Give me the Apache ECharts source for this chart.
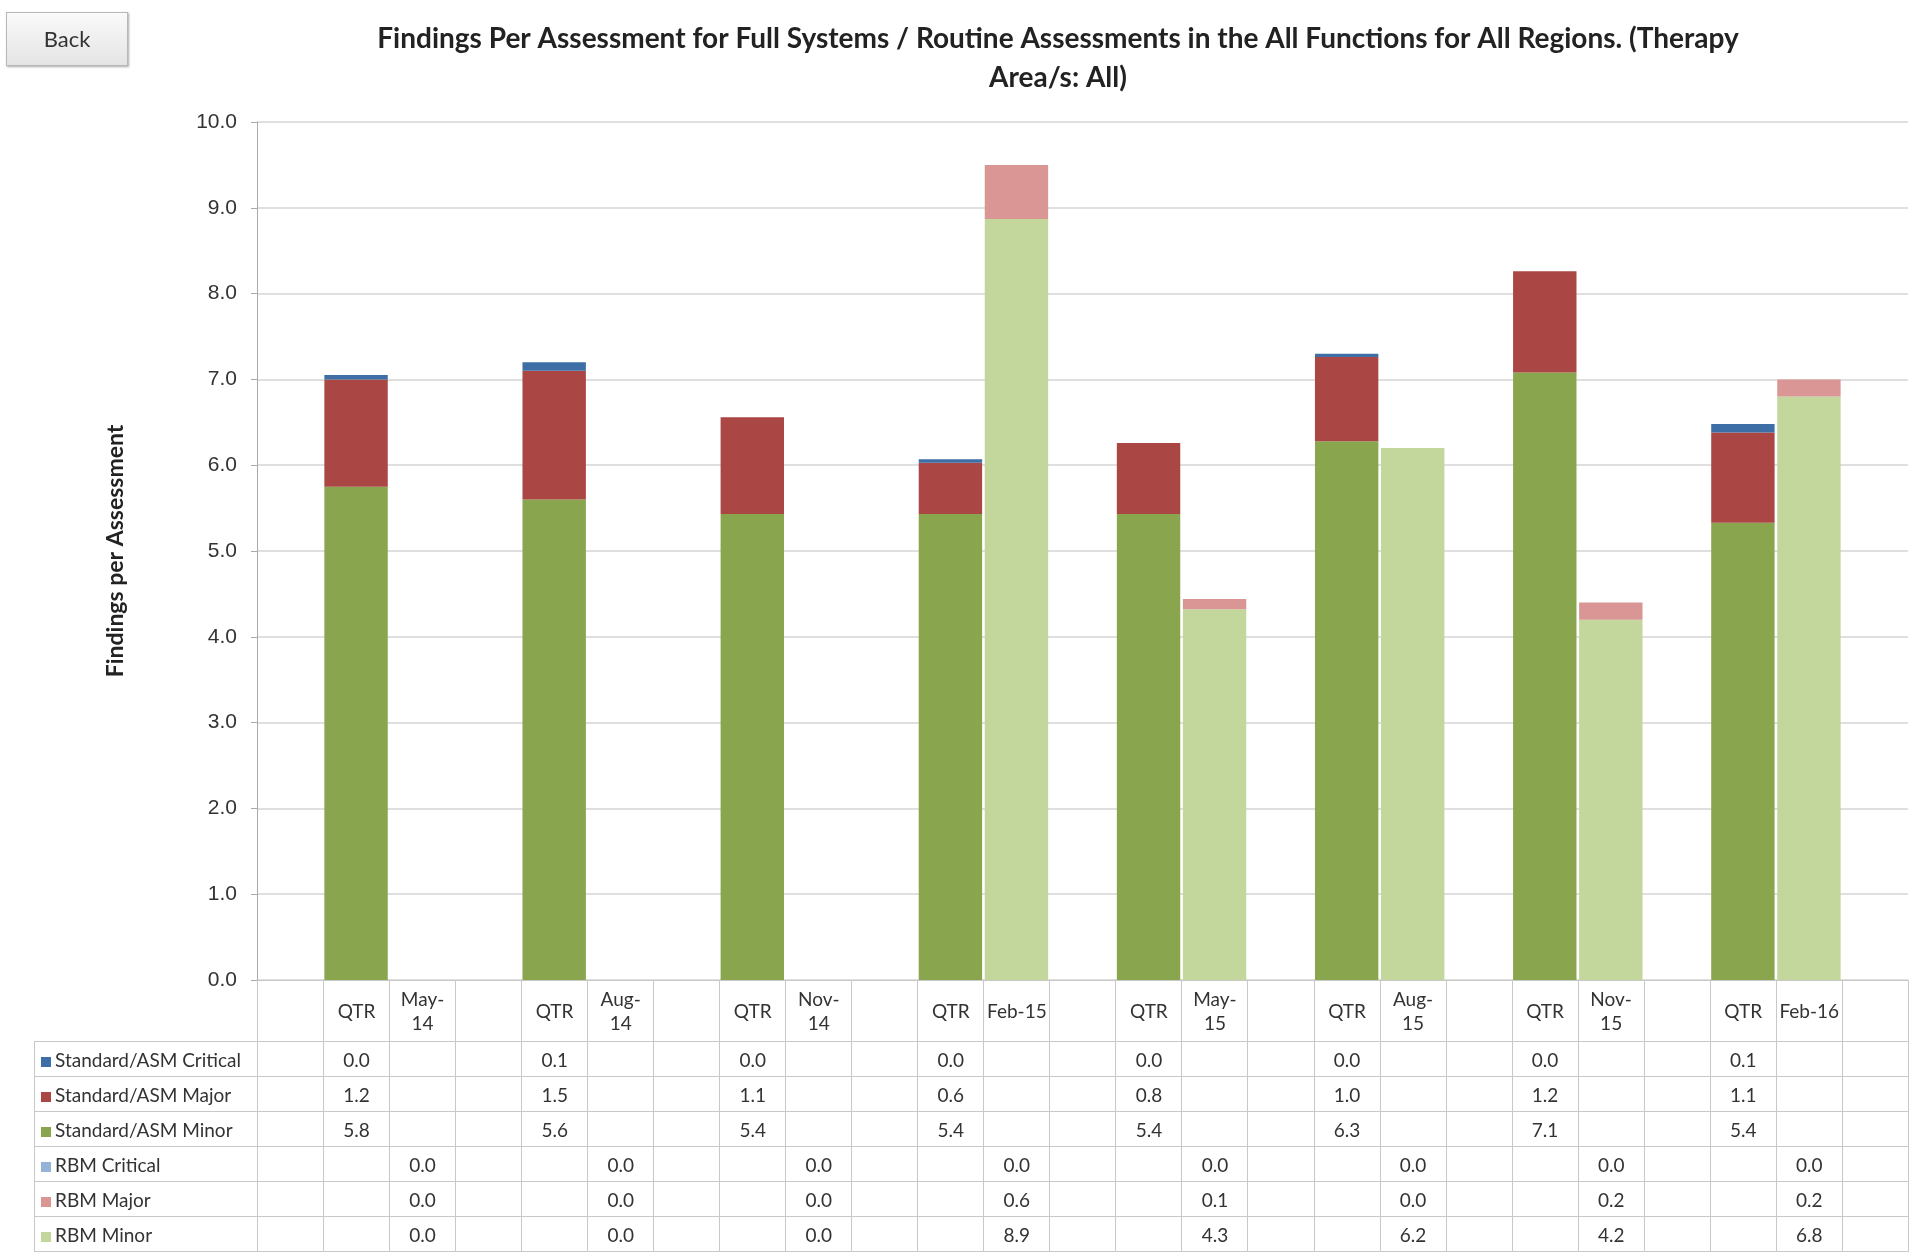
<!DOCTYPE html>
<html lang="en">
<head>
<meta charset="UTF-8">
<title>Findings Per Assessment</title>
<script src="https://cdn.jsdelivr.net/npm/echarts/dist/echarts.min.js"></script>
<style>
  body { margin: 0; background: #fff; font-family: Lato, "Open Sans", sans-serif; }
  #chart { position: absolute; left: 0; top: 0; width: 1920px; height: 1259px; }
  #back { position: absolute; left: 6px; top: 12px; width: 120px; height: 52px; border: 1px solid #b8b8b8;
          background: linear-gradient(#fafafa, #e4e4e4); font-size: 22px; color: #333; text-align: center;
          line-height: 52px; box-shadow: 1px 1px 2px #aaa; }
  #tbl { position: absolute; left: 34px; top: 980px; border-collapse: collapse; table-layout: fixed;
         width: 1874px; font-size: 19px; color: #333; }
  #tbl td { border: 1.5px solid #c8c8c8; text-align: center; padding: 0; height: 34px; overflow: hidden; }
  #tbl td.lbl { text-align: left; padding-left: 6px; white-space: nowrap; }
  #tbl tr.hdr td { height: 60px; line-height: 24px; }
  #tbl tr.hdr td.blank { border: none; border-right: 1.5px solid #c8c8c8; }
  .sq { display: inline-block; width: 10px; height: 10px; margin-right: 4px; }
</style>
</head>
<body>
<div id="chart"></div>
<div id="back">Back</div>
<table id="tbl"></table>
<script>
    const months = ['May-14', 'Aug-14', 'Nov-14', 'Feb-15', 'May-15', 'Aug-15', 'Nov-15', 'Feb-16'];
    // bar heights, plus rounded table labels
    const std = {
        critical: [0.05, 0.1, 0.0, 0.04, 0.0, 0.04, 0.0, 0.1],
        major:    [1.25, 1.5, 1.13, 0.6, 0.83, 0.98, 1.18, 1.05],
        minor:    [5.75, 5.6, 5.43, 5.43, 5.43, 6.28, 7.08, 5.33]
    };
    const stdLbl = {
        critical: ['0.0', '0.1', '0.0', '0.0', '0.0', '0.0', '0.0', '0.1'],
        major:    ['1.2', '1.5', '1.1', '0.6', '0.8', '1.0', '1.2', '1.1'],
        minor:    ['5.8', '5.6', '5.4', '5.4', '5.4', '6.3', '7.1', '5.4']
    };
    const rbm = {
        critical: [0, 0, 0, 0, 0, 0, 0, 0],
        major:    [0, 0, 0, 0.63, 0.12, 0, 0.2, 0.2],
        minor:    [0, 0, 0, 8.87, 4.32, 6.2, 4.2, 6.8]
    };
    const rbmLbl = {
        critical: ['0.0', '0.0', '0.0', '0.0', '0.0', '0.0', '0.0', '0.0'],
        major:    ['0.0', '0.0', '0.0', '0.6', '0.1', '0.0', '0.2', '0.2'],
        minor:    ['0.0', '0.0', '0.0', '8.9', '4.3', '6.2', '4.2', '6.8']
    };

    // 25 columns: blank, then (QTR, month, blank) x 8
    const cats = [''];
    months.forEach(m => cats.push('QTR', m, ''));

    function spread(vals, offset) {
        const arr = Array(cats.length).fill(null);
        vals.forEach((v, i) => { arr[1 + i * 3 + offset] = v; });
        return arr;
    }

    const seriesDef = [
        { name: 'Standard/ASM Minor', data: spread(std.minor, 0), color: '#89a54e' },
        { name: 'Standard/ASM Major', data: spread(std.major, 0), color: '#aa4643' },
        { name: 'Standard/ASM Critical', data: spread(std.critical, 0), color: '#3d6fa6' },
        { name: 'RBM Minor', data: spread(rbm.minor, 1), color: '#c3d69b' },
        { name: 'RBM Major', data: spread(rbm.major, 1), color: '#d99694' },
        { name: 'RBM Critical', data: spread(rbm.critical, 1), color: '#95b3d7' }
    ];

    const chart = echarts.init(document.getElementById('chart'));
    chart.setOption({
        animation: false,
        title: {
            text: 'Findings Per Assessment for Full Systems / Routine Assessments in the All Functions for All Regions. (Therapy\nArea/s: All)',
            left: 1053, top: 14, textAlign: 'center',
            textStyle: { fontFamily: 'Lato', fontWeight: 'bold', fontSize: 28, lineHeight: 39, color: '#222' }
        },
        grid: { left: 257, right: 12, top: 122, bottom: 279 },
        xAxis: {
            type: 'category', data: cats,
            axisLine: { lineStyle: { color: '#aaa' } },
            axisTick: { show: false }, axisLabel: { show: false }
        },
        yAxis: {
            type: 'value', min: 0, max: 10, interval: 1,
            name: 'Findings per Assessment', nameLocation: 'middle', nameGap: 130,
            nameTextStyle: { fontFamily: 'Lato', fontWeight: 'bold', fontSize: 23, color: '#222' },
            axisLine: { show: true, lineStyle: { color: '#aaa' } },
            axisTick: { show: true, length: 6, lineStyle: { color: '#aaa' } },
            axisLabel: { formatter: v => v.toFixed(1), fontSize: 21, color: '#333', margin: 20 },
            splitLine: { lineStyle: { color: '#d4d4d4', width: 1.5 } }
        },
        series: seriesDef.map(s => ({
            name: s.name, type: 'bar', stack: 'all', data: s.data,
            barWidth: '96%', itemStyle: { color: s.color }
        }))
    });

    // data table under the axis
    const tbl = document.getElementById('tbl');
    let html = '<colgroup><col style="width:223px">';
    cats.forEach(() => { html += '<col style="width:66.04px">'; });
    html += '</colgroup><tr class="hdr"><td class="blank"></td>';
    cats.forEach(c => {
        const txt = c.startsWith('Feb') ? c : c.replace('-', '-<br>');
        html += '<td>' + txt + '</td>';
    });
    html += '</tr>';
    const rows = [
        ['Standard/ASM Critical', '#3d6fa6', stdLbl.critical, 0],
        ['Standard/ASM Major', '#aa4643', stdLbl.major, 0],
        ['Standard/ASM Minor', '#89a54e', stdLbl.minor, 0],
        ['RBM Critical', '#95b3d7', rbmLbl.critical, 1],
        ['RBM Major', '#d99694', rbmLbl.major, 1],
        ['RBM Minor', '#c3d69b', rbmLbl.minor, 1]
    ];
    rows.forEach(([name, color, vals, off]) => {
        html += '<tr><td class="lbl"><span class="sq" style="background:' + color + '"></span>' + name + '</td>';
        spread(vals, off).forEach(v => { html += '<td>' + (v === null ? '' : v) + '</td>'; });
        html += '</tr>';
    });
    tbl.innerHTML = html;
</script>
</body>
</html>
